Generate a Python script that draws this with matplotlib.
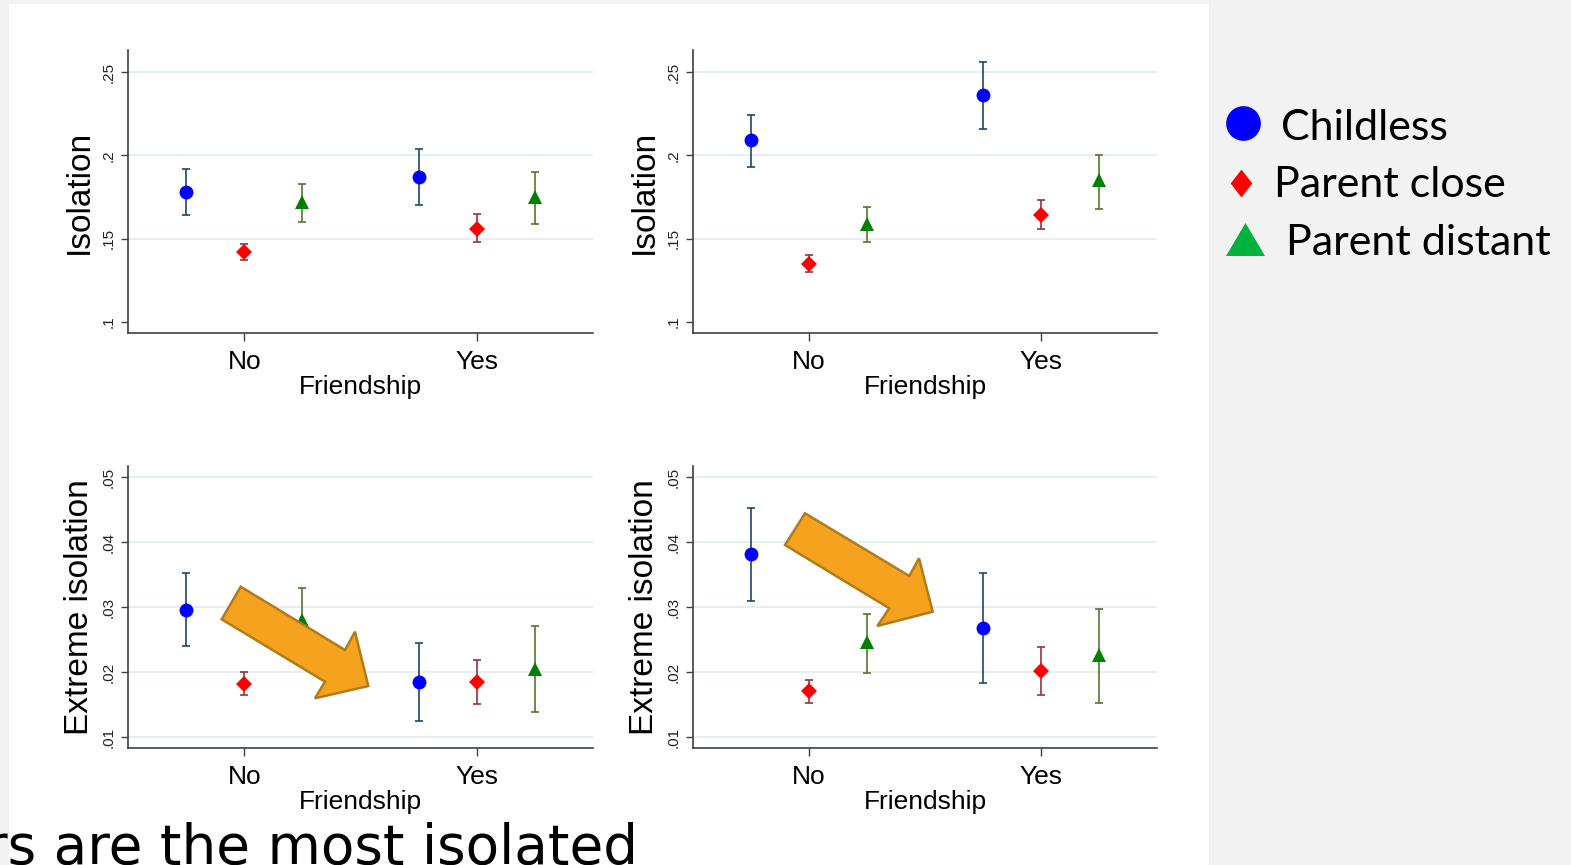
import numpy as np
import matplotlib
matplotlib.use("Agg")
import matplotlib.pyplot as plt
from matplotlib.patches import Rectangle, Polygon
from matplotlib.lines import Line2D
from matplotlib.path import Path

# Данные: группы и категории
categories = ["No", "Yes"]
groups = ["Childless", "Parent close", "Parent distant"]

# Isolation, левая панель
iso_a_mean = {"Childless": [0.178, 0.187], "Parent close": [0.142, 0.156], "Parent distant": [0.172, 0.175]}
iso_a_lo = {"Childless": [0.164, 0.170], "Parent close": [0.137, 0.148], "Parent distant": [0.160, 0.159]}
iso_a_hi = {"Childless": [0.192, 0.204], "Parent close": [0.147, 0.165], "Parent distant": [0.183, 0.190]}

# Isolation, правая панель
iso_b_mean = {"Childless": [0.209, 0.236], "Parent close": [0.135, 0.164], "Parent distant": [0.159, 0.185]}
iso_b_lo = {"Childless": [0.193, 0.216], "Parent close": [0.130, 0.156], "Parent distant": [0.148, 0.168]}
iso_b_hi = {"Childless": [0.224, 0.256], "Parent close": [0.140, 0.173], "Parent distant": [0.169, 0.200]}

# Extreme isolation, левая панель
ext_a_mean = {"Childless": [0.0296, 0.0185], "Parent close": [0.0182, 0.0185], "Parent distant": [0.0280, 0.0205]}
ext_a_lo = {"Childless": [0.0240, 0.0124], "Parent close": [0.0164, 0.0151], "Parent distant": [0.0231, 0.0139]}
ext_a_hi = {"Childless": [0.0353, 0.0244], "Parent close": [0.0200, 0.0219], "Parent distant": [0.0329, 0.0270]}

# Extreme isolation, правая панель
ext_b_mean = {"Childless": [0.0382, 0.0268], "Parent close": [0.0170, 0.0201], "Parent distant": [0.0246, 0.0226]}
ext_b_lo = {"Childless": [0.0310, 0.0183], "Parent close": [0.0152, 0.0164], "Parent distant": [0.0199, 0.0152]}
ext_b_hi = {"Childless": [0.0453, 0.0353], "Parent close": [0.0187, 0.0238], "Parent distant": [0.0289, 0.0297]}

iso_ticks = [0.10, 0.15, 0.20, 0.25]
iso_ticklabels = [".1", ".15", ".2", ".25"]
ext_ticks = [0.01, 0.02, 0.03, 0.04, 0.05]
ext_ticklabels = [".01", ".02", ".03", ".04", ".05"]

# Стиль групп
offsets = {"Childless": -0.25, "Parent close": 0.0, "Parent distant": 0.25}
mcolor = {"Childless": "#0000ff", "Parent close": "#ff0000", "Parent distant": "#008000"}
ecolor = {"Childless": "#1a476f", "Parent close": "#90353b", "Parent distant": "#55752f"}
marker = {"Childless": "o", "Parent close": "D", "Parent distant": "^"}
msize = {"Childless": 10, "Parent close": 8.3, "Parent distant": 10}

W, H = 1571, 865
fig = plt.figure(figsize=(W / 100, H / 100), dpi=100, facecolor="#f2f2f2")


def fx(px):
    return px / W


def fy(py):
    return 1 - py / H


# Белая область слайда
fig.add_artist(Rectangle((fx(9), 0), fx(1209) - fx(9), fy(4), transform=fig.transFigure,
                         facecolor="white", edgecolor="none", zorder=-1))

stata_font = "Liberation Sans"
slide_font = "Lato"


def panel(left, top, right, bottom, mean, lo, hi, ticks, ticklabels, ylim, ylabel, skip_first_grid):
    ax = fig.add_axes([fx(left), fy(bottom), (right - left) / W, (bottom - top) / H])
    ax.set_facecolor("none")
    x = np.arange(len(categories))
    for g in groups:
        m = np.array(mean[g])
        err = [m - np.array(lo[g]), np.array(hi[g]) - m]
        ax.errorbar(x + offsets[g], m, yerr=err, fmt="none", ecolor=ecolor[g],
                    elinewidth=1.2, capsize=3, capthick=1.2, zorder=3)
        ax.plot(x + offsets[g], m, linestyle="none", marker=marker[g], color=mcolor[g],
                markersize=msize[g], markeredgewidth=0, zorder=4)
    ax.set_xlim(-0.5, 1.5)
    ax.set_ylim(*ylim)
    ax.set_xticks(x)
    ax.set_xticklabels(categories, fontsize=19, family=stata_font)
    ax.set_yticks(ticks)
    ax.set_yticklabels(ticklabels, fontsize=11, family=stata_font, rotation=90, va="center",
                       color="#222222")
    ax.tick_params(axis="x", length=6, width=1, color="#404040", pad=6)
    ax.tick_params(axis="y", length=5, width=1, color="#404040", pad=4)
    ax.set_xlabel("Friendship", fontsize=19, family=stata_font, labelpad=1)
    ax.set_ylabel(ylabel, fontsize=24, family=stata_font, labelpad=5)
    for s in ["top", "right"]:
        ax.spines[s].set_visible(False)
    for s in ["left", "bottom"]:
        ax.spines[s].set_color("#404040")
        ax.spines[s].set_linewidth(1.2)
    ax.grid(axis="y", color="#e6eef1", linewidth=1.6)
    ax.set_axisbelow(True)
    if skip_first_grid:
        ax.get_ygridlines()[0].set_visible(False)
    return ax


iso_lim = (0.0934, 0.2632)
ext_lim = (0.0083, 0.0517)
panel(128, 50, 593, 333, iso_a_mean, iso_a_lo, iso_a_hi, iso_ticks, iso_ticklabels, iso_lim, "Isolation", True)
panel(693, 50, 1157, 333, iso_b_mean, iso_b_lo, iso_b_hi, iso_ticks, iso_ticklabels, iso_lim, "Isolation", True)
panel(128, 466, 593, 748, ext_a_mean, ext_a_lo, ext_a_hi, ext_ticks, ext_ticklabels, ext_lim, "Extreme isolation", False)
panel(693, 466, 1157, 748, ext_b_mean, ext_b_lo, ext_b_hi, ext_ticks, ext_ticklabels, ext_lim, "Extreme isolation", False)

# Оранжевые стрелки
arrows = [
    [(240.7, 586.7), (345, 650), (355, 631.7), (368.3, 686), (315, 698.3), (325, 681.7), (221.7, 619.3)],
    [(805, 513.3), (909.3, 576), (919, 558.3), (932.7, 611.7), (877.3, 626), (889.3, 608.3), (785, 545)],
]
for pts in arrows:
    fig.add_artist(Polygon([(fx(px), fy(py)) for px, py in pts], closed=True, transform=fig.transFigure,
                           facecolor="#f5a31f", edgecolor="#b27a1a", linewidth=1.8, zorder=5))

# Легенда слайда
diamond = Path([(0, 1), (0.78, 0), (0, -1), (-0.78, 0), (0, 1)], closed=True)
triangle = Path([(0, 1), (1.18, -1), (-1.18, -1), (0, 1)], closed=True)
legend_items = [
    ("Childless", "#0000ff", "o", 25, 1243, 123, 1281, 140),
    ("Parent close", "#ff0000", diamond, 20, 1241, 183, 1274, 197),
    ("Parent distant", "#00b33c", triangle, 28, 1245, 239, 1286, 255),
]
for label, col, mk, ms, mx, my, tx, ty in legend_items:
    fig.add_artist(Line2D([fx(mx)], [fy(my)], transform=fig.transFigure, marker=mk, color=col,
                          markersize=ms, markeredgewidth=0, linestyle="none"))
    fig.text(fx(tx), fy(ty), label, fontsize=31, family=slide_font, va="baseline", ha="left")

# Подпись слайда внизу (обрезана краем)
fig.text(fx(-15), fy(864), "rs are the most isolated", fontsize=39.5, family="DejaVu Sans",
         va="baseline", ha="left")

fig.savefig("out.png", dpi=100, facecolor=fig.get_facecolor())
